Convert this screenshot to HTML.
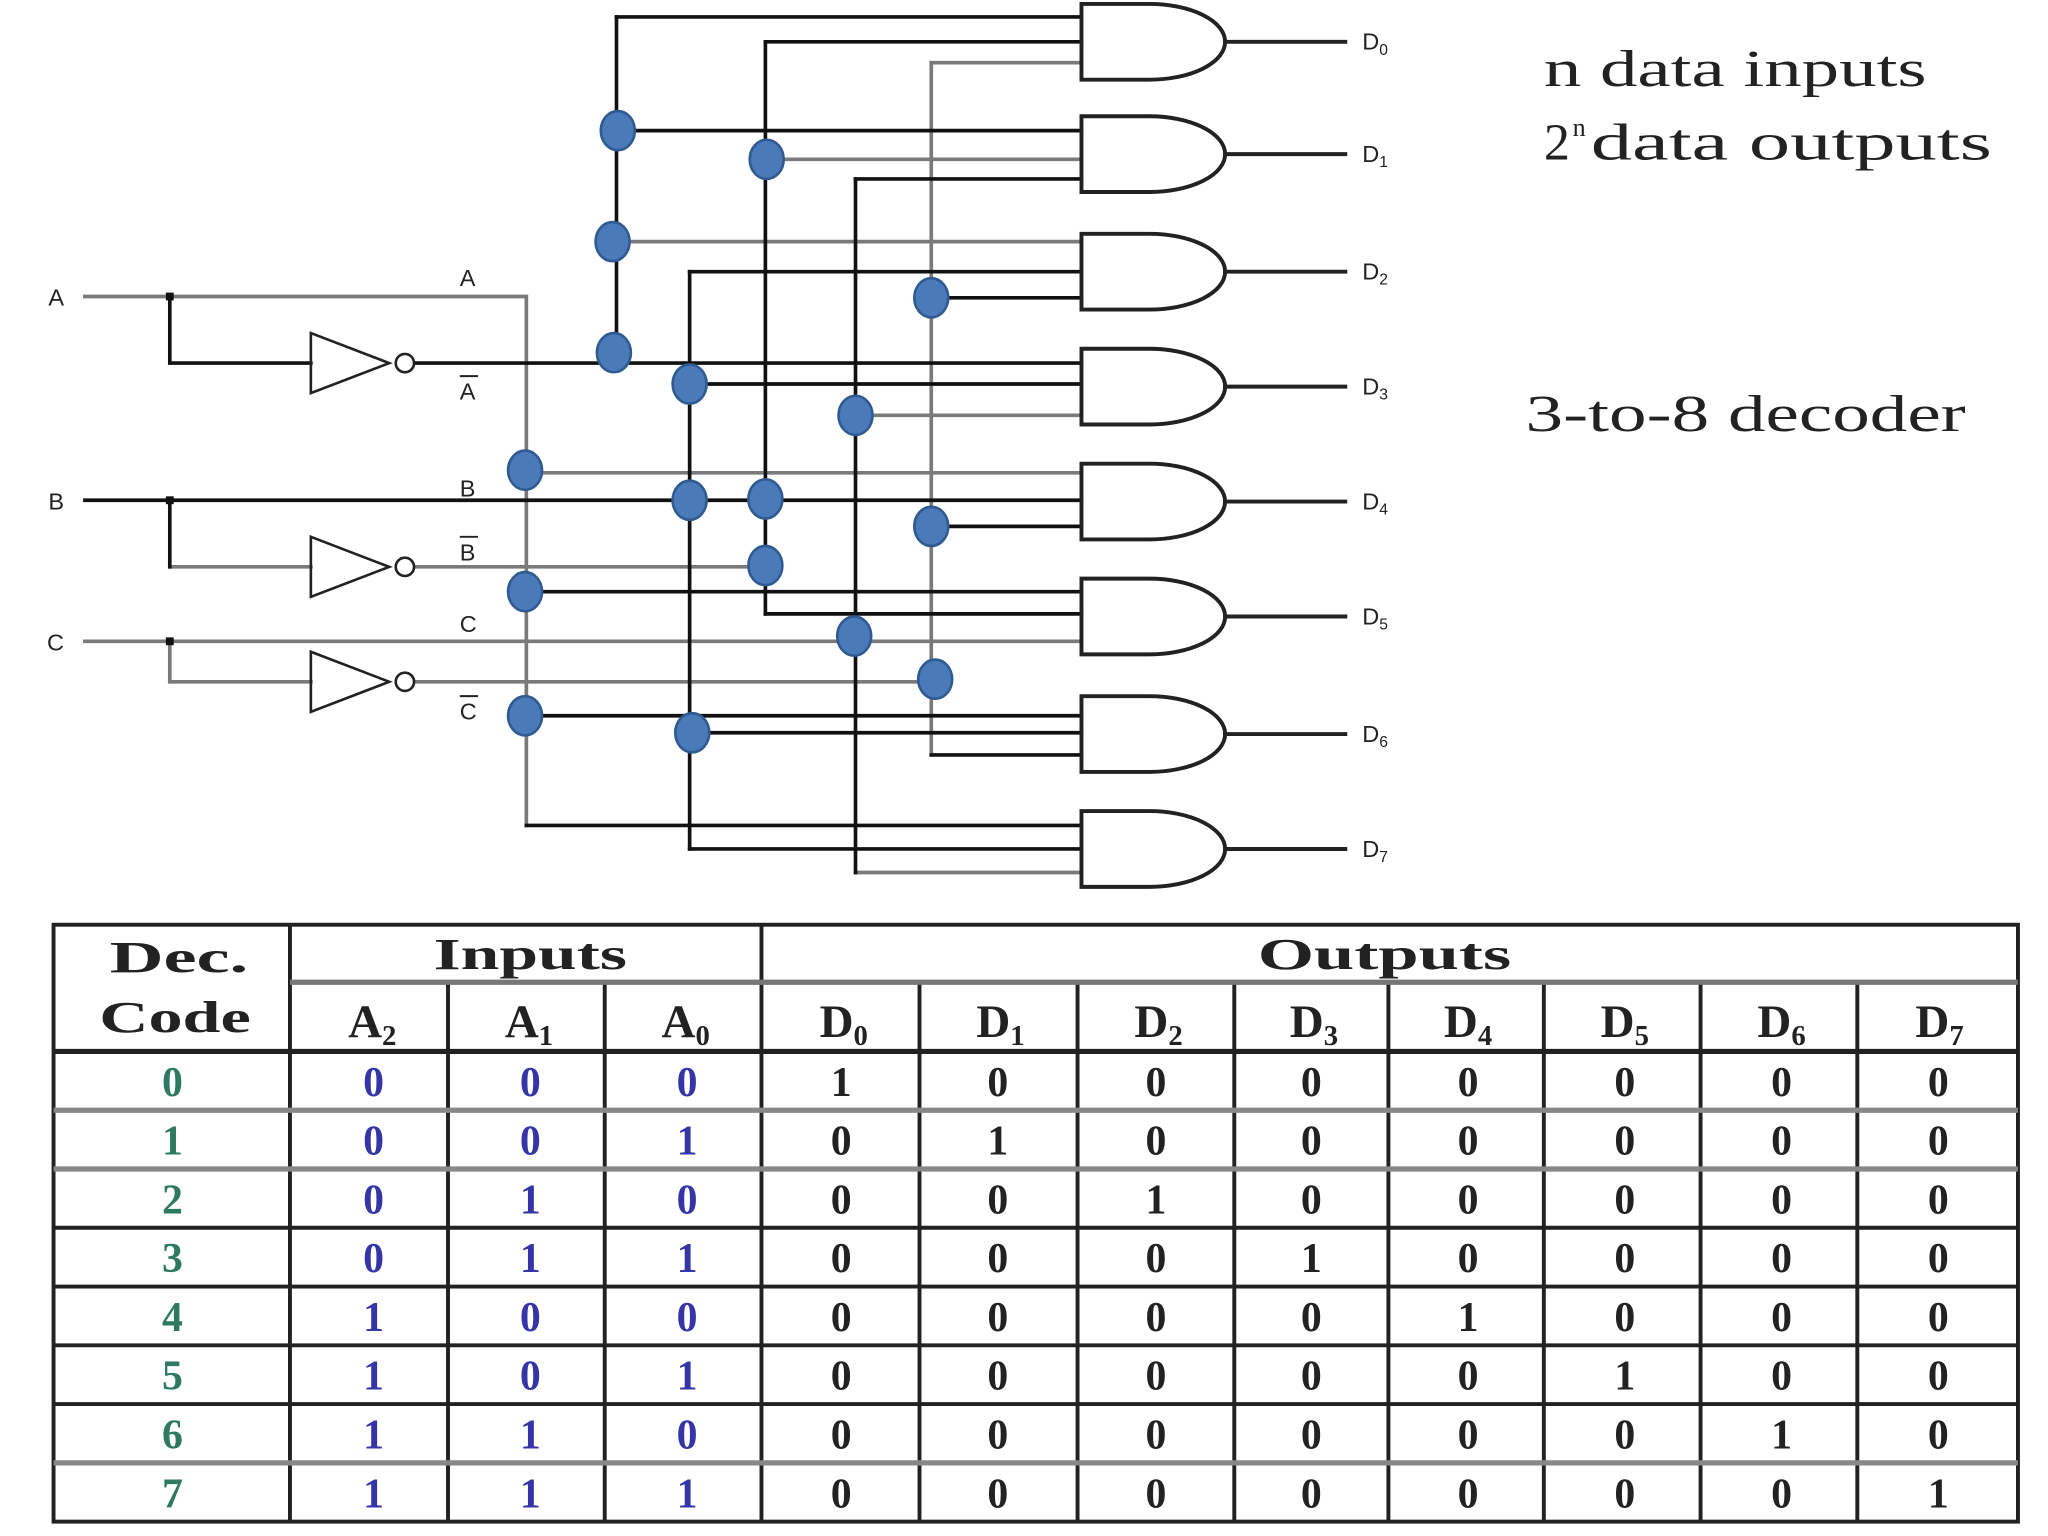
<!DOCTYPE html>
<html><head><meta charset="utf-8"><style>
html,body{margin:0;padding:0;background:#fff;}
svg{display:block;}
</style></head><body>
<svg width="2048" height="1536" viewBox="0 0 1568 1176" preserveAspectRatio="none" xmlns="http://www.w3.org/2000/svg">
<rect width="1568" height="1176" fill="#fff"/>
<g fill="none" stroke-width="2.8" stroke-linecap="square">
<g stroke="#7a7a7a">
<path d="M65,227 H403 V632"/>
<path d="M403,362 H828"/>
<path d="M472,185 H828"/>
<path d="M586,122 H828"/>
<path d="M318,434 H586"/>
<path d="M655,318 H828"/>
<path d="M655,668 H828"/>
<path d="M713,48 V578"/>
<path d="M713,48 H828"/>
<path d="M65,491 H828"/>
<path d="M318,522 H716"/>
<path d="M130,434 H238"/>
<path d="M130,522 H238"/>
<path d="M130,491 V522"/>
</g>
<g stroke="#111">
<path d="M318,278 H828"/>
<path d="M472,13 V278"/>
<path d="M472,13 H828"/>
<path d="M472,100 H828"/>
<path d="M528,208 V650"/>
<path d="M528,208 H828"/>
<path d="M528,294 H828"/>
<path d="M528,561 H828"/>
<path d="M528,650 H828"/>
<path d="M586,32 V470"/>
<path d="M586,32 H828"/>
<path d="M586,470 H828"/>
<path d="M655,137 V668"/>
<path d="M655,137 H828"/>
<path d="M713,228 H828"/>
<path d="M713,403 H828"/>
<path d="M713,578 H828"/>
<path d="M65,383 H828"/>
<path d="M403,453 H828"/>
<path d="M403,548 H828"/>
<path d="M403,632 H828"/>
<path d="M130,227 V278 H238"/>
<path d="M130,383 V434"/>
</g>
<g stroke="#222" stroke-width="2">
<path d="M238,255 L298,278 L238,301 Z"/><circle cx="310" cy="278" r="7"/>
<path d="M238,411 L298,434 L238,457 Z"/><circle cx="310" cy="434" r="7"/>
<path d="M238,499 L298,522 L238,545 Z"/><circle cx="310" cy="522" r="7"/>
</g>
<g stroke="#222" stroke-width="3">
<path d="M828,3 H880 A58,29 0 0 1 880,61 H828 Z"/><path d="M938,32 H1030"/>
<path d="M828,89 H880 A58,29 0 0 1 880,147 H828 Z"/><path d="M938,118 H1030"/>
<path d="M828,179 H880 A58,29 0 0 1 880,237 H828 Z"/><path d="M938,208 H1030"/>
<path d="M828,267 H880 A58,29 0 0 1 880,325 H828 Z"/><path d="M938,296 H1030"/>
<path d="M828,355 H880 A58,29 0 0 1 880,413 H828 Z"/><path d="M938,384 H1030"/>
<path d="M828,443 H880 A58,29 0 0 1 880,501 H828 Z"/><path d="M938,472 H1030"/>
<path d="M828,533 H880 A58,29 0 0 1 880,591 H828 Z"/><path d="M938,562 H1030"/>
<path d="M828,621 H880 A58,29 0 0 1 880,679 H828 Z"/><path d="M938,650 H1030"/>
</g>
</g>
<g fill="#111"><rect x="127" y="224" width="6" height="6"/><rect x="127" y="380" width="6" height="6"/><rect x="127" y="488" width="6" height="6"/></g>
<g fill="#4a7ab8" stroke="#2f5b92" stroke-width="2">
<ellipse cx="473" cy="100" rx="13" ry="15"/>
<ellipse cx="469" cy="185" rx="13" ry="15"/>
<ellipse cx="470" cy="270" rx="13" ry="15"/>
<ellipse cx="587" cy="122" rx="13" ry="15"/>
<ellipse cx="713" cy="228" rx="13" ry="15"/>
<ellipse cx="528" cy="294" rx="13" ry="15"/>
<ellipse cx="655" cy="318" rx="13" ry="15"/>
<ellipse cx="402" cy="360" rx="13" ry="15"/>
<ellipse cx="528" cy="383" rx="13" ry="15"/>
<ellipse cx="586" cy="382" rx="13" ry="15"/>
<ellipse cx="713" cy="403" rx="13" ry="15"/>
<ellipse cx="586" cy="433" rx="13" ry="15"/>
<ellipse cx="402" cy="453" rx="13" ry="15"/>
<ellipse cx="654" cy="487" rx="13" ry="15"/>
<ellipse cx="716" cy="520" rx="13" ry="15"/>
<ellipse cx="402" cy="548" rx="13" ry="15"/>
<ellipse cx="530" cy="561" rx="13" ry="15"/>
</g>
<g font-family="Liberation Sans, sans-serif" font-size="18" fill="#222">
<text x="37" y="234">A</text><text x="37" y="390">B</text><text x="36" y="498">C</text>
<text x="352" y="219">A</text>
<text x="352" y="306">A</text><path d="M352,288 H366" stroke="#222" stroke-width="1.5"/>
<text x="352" y="380">B</text>
<text x="352" y="429">B</text><path d="M352,411 H366" stroke="#222" stroke-width="1.5"/>
<text x="352" y="484">C</text>
<text x="352" y="551">C</text><path d="M352,533 H366" stroke="#222" stroke-width="1.5"/>
</g>
<g font-family="Liberation Sans, sans-serif" font-size="18" fill="#222">
<text x="1043" y="38">D<tspan font-size="12" dy="4">0</tspan></text>
<text x="1043" y="124">D<tspan font-size="12" dy="4">1</tspan></text>
<text x="1043" y="214">D<tspan font-size="12" dy="4">2</tspan></text>
<text x="1043" y="302">D<tspan font-size="12" dy="4">3</tspan></text>
<text x="1043" y="390">D<tspan font-size="12" dy="4">4</tspan></text>
<text x="1043" y="478">D<tspan font-size="12" dy="4">5</tspan></text>
<text x="1043" y="568">D<tspan font-size="12" dy="4">6</tspan></text>
<text x="1043" y="656">D<tspan font-size="12" dy="4">7</tspan></text>
</g>
<g font-family="Liberation Serif, serif" font-size="40" fill="#222">
<text x="1182" y="66" textLength="293" lengthAdjust="spacingAndGlyphs">n data inputs</text>
<text x="1182" y="122">2</text>
<text x="1204" y="104" font-size="20">n</text>
<text x="1218" y="122" textLength="307" lengthAdjust="spacingAndGlyphs">data outputs</text>
<text x="1168" y="330" textLength="337" lengthAdjust="spacingAndGlyphs">3-to-8 decoder</text>
</g>
<g stroke="#222" stroke-width="3" fill="none">
<rect x="41" y="708" width="1504" height="457"/>
<path d="M222,708 V1165 M583,708 V1165"/>
<path d="M343,752 V1165 M463,752 V1165 M704,752 V1165 M825,752 V1165 M945,752 V1165 M1063,752 V1165 M1182,752 V1165 M1302,752 V1165 M1422,752 V1165"/>
<path d="M222,752 H1545" stroke="#777" stroke-width="4"/>
<path d="M41,805 H1545" stroke-width="4"/>
<path d="M41,850 H1545" stroke="#888" stroke-width="4"/>
<path d="M41,895 H1545" stroke="#888" stroke-width="4"/>
<path d="M41,940 H1545"/>
<path d="M41,985 H1545"/>
<path d="M41,1030 H1545"/>
<path d="M41,1075 H1545"/>
<path d="M41,1120 H1545" stroke="#888" stroke-width="4"/>
</g>
<g font-family="Liberation Serif, serif" font-weight="bold" font-size="34" fill="#222">
<text x="84" y="744" textLength="106" lengthAdjust="spacingAndGlyphs">Dec.</text>
<text x="76" y="790" textLength="116" lengthAdjust="spacingAndGlyphs">Code</text>
<text x="332" y="742" textLength="148" lengthAdjust="spacingAndGlyphs">Inputs</text>
<text x="963" y="742" textLength="194" lengthAdjust="spacingAndGlyphs">Outputs</text>
</g>
<g font-family="Liberation Serif, serif" font-weight="bold" font-size="36" fill="#222" text-anchor="middle">
<text x="285" y="794">A<tspan font-size="22" dy="6">2</tspan></text>
<text x="405" y="794">A<tspan font-size="22" dy="6">1</tspan></text>
<text x="525" y="794">A<tspan font-size="22" dy="6">0</tspan></text>
<text x="646" y="794">D<tspan font-size="22" dy="6">0</tspan></text>
<text x="766" y="794">D<tspan font-size="22" dy="6">1</tspan></text>
<text x="887" y="794">D<tspan font-size="22" dy="6">2</tspan></text>
<text x="1006" y="794">D<tspan font-size="22" dy="6">3</tspan></text>
<text x="1124" y="794">D<tspan font-size="22" dy="6">4</tspan></text>
<text x="1244" y="794">D<tspan font-size="22" dy="6">5</tspan></text>
<text x="1364" y="794">D<tspan font-size="22" dy="6">6</tspan></text>
<text x="1485" y="794">D<tspan font-size="22" dy="6">7</tspan></text>
</g>
<g font-family="Liberation Serif, serif" font-weight="bold" font-size="32" text-anchor="middle">
<g fill="#2e7a5e">
<text x="132" y="839">0</text><text x="132" y="884">1</text><text x="132" y="929">2</text><text x="132" y="974">3</text><text x="132" y="1019">4</text><text x="132" y="1064">5</text><text x="132" y="1109">6</text><text x="132" y="1154">7</text>
</g>
<g fill="#3535a8">
<text x="286" y="839">0</text><text x="406" y="839">0</text><text x="526" y="839">0</text>
<text x="286" y="884">0</text><text x="406" y="884">0</text><text x="526" y="884">1</text>
<text x="286" y="929">0</text><text x="406" y="929">1</text><text x="526" y="929">0</text>
<text x="286" y="974">0</text><text x="406" y="974">1</text><text x="526" y="974">1</text>
<text x="286" y="1019">1</text><text x="406" y="1019">0</text><text x="526" y="1019">0</text>
<text x="286" y="1064">1</text><text x="406" y="1064">0</text><text x="526" y="1064">1</text>
<text x="286" y="1109">1</text><text x="406" y="1109">1</text><text x="526" y="1109">0</text>
<text x="286" y="1154">1</text><text x="406" y="1154">1</text><text x="526" y="1154">1</text>
</g>
<g fill="#222">
<text x="644" y="839">1</text><text x="764" y="839">0</text><text x="885" y="839">0</text><text x="1004" y="839">0</text><text x="1124" y="839">0</text><text x="1244" y="839">0</text><text x="1364" y="839">0</text><text x="1484" y="839">0</text>
<text x="644" y="884">0</text><text x="764" y="884">1</text><text x="885" y="884">0</text><text x="1004" y="884">0</text><text x="1124" y="884">0</text><text x="1244" y="884">0</text><text x="1364" y="884">0</text><text x="1484" y="884">0</text>
<text x="644" y="929">0</text><text x="764" y="929">0</text><text x="885" y="929">1</text><text x="1004" y="929">0</text><text x="1124" y="929">0</text><text x="1244" y="929">0</text><text x="1364" y="929">0</text><text x="1484" y="929">0</text>
<text x="644" y="974">0</text><text x="764" y="974">0</text><text x="885" y="974">0</text><text x="1004" y="974">1</text><text x="1124" y="974">0</text><text x="1244" y="974">0</text><text x="1364" y="974">0</text><text x="1484" y="974">0</text>
<text x="644" y="1019">0</text><text x="764" y="1019">0</text><text x="885" y="1019">0</text><text x="1004" y="1019">0</text><text x="1124" y="1019">1</text><text x="1244" y="1019">0</text><text x="1364" y="1019">0</text><text x="1484" y="1019">0</text>
<text x="644" y="1064">0</text><text x="764" y="1064">0</text><text x="885" y="1064">0</text><text x="1004" y="1064">0</text><text x="1124" y="1064">0</text><text x="1244" y="1064">1</text><text x="1364" y="1064">0</text><text x="1484" y="1064">0</text>
<text x="644" y="1109">0</text><text x="764" y="1109">0</text><text x="885" y="1109">0</text><text x="1004" y="1109">0</text><text x="1124" y="1109">0</text><text x="1244" y="1109">0</text><text x="1364" y="1109">1</text><text x="1484" y="1109">0</text>
<text x="644" y="1154">0</text><text x="764" y="1154">0</text><text x="885" y="1154">0</text><text x="1004" y="1154">0</text><text x="1124" y="1154">0</text><text x="1244" y="1154">0</text><text x="1364" y="1154">0</text><text x="1484" y="1154">1</text>
</g>
</g>
</svg>
</body></html>
